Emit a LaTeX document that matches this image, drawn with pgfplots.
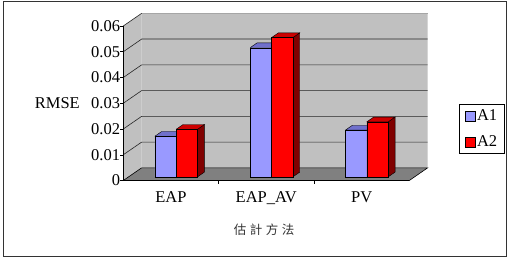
\documentclass[border=0pt]{standalone}
\usepackage{pgfplots}
\pgfplotsset{compat=1.18}
\usepackage{pgfplotstable}
\usepackage{fontspec}
\setmainfont{Liberation Serif}
\newfontfamily\cjk{Noto Sans CJK TC}

\definecolor{aonefront}{HTML}{9999FF}
\definecolor{aonetop}{HTML}{7070CC}
\definecolor{aoneside}{HTML}{4D4D80}
\definecolor{atwofront}{HTML}{FF0000}
\definecolor{atwotop}{HTML}{CC0000}
\definecolor{atwoside}{HTML}{800000}
\definecolor{wallc}{HTML}{C0C0C0}
\definecolor{floorc}{HTML}{808080}

\pgfplotstableread{
x  A1     A2
0  0.0158 0.0185
1  0.0502 0.0541
2  0.0182 0.0214
}\datatable

% depth geometry (axis units)
\def\DX{0.193}\def\DY{0.00493}
\def\FXa{0.054}\def\FYa{0.00138}
\def\FXb{0.127}\def\FYb{0.00325}
\def\BW{0.2235}

\newcommand\drawbar[5]{%
  \pgfmathsetmacro\bxl{#1+\FXa}%
  \pgfmathsetmacro\bxr{#1+\BW+\FXa}%
  \pgfmathsetmacro\byt{#2+\FYa}%
  \pgfmathsetmacro\bxlb{#1+\FXb}%
  \pgfmathsetmacro\bxrb{#1+\BW+\FXb}%
  \pgfmathsetmacro\bytb{#2+\FYb}%
  \addplot[forget plot, fill=#5, draw=black, line width=0.4pt]
    coordinates {(\bxr,\FYa) (\bxrb,\FYb) (\bxrb,\bytb) (\bxr,\byt) (\bxr,\FYa)};
  \addplot[forget plot, fill=#4, draw=black, line width=0.4pt]
    coordinates {(\bxl,\byt) (\bxr,\byt) (\bxrb,\bytb) (\bxlb,\bytb) (\bxl,\byt)};
  \addplot[forget plot, fill=#3, draw=black, line width=0.4pt]
    coordinates {(\bxl,\FYa) (\bxr,\FYa) (\bxr,\byt) (\bxl,\byt) (\bxl,\FYa)};
}

\begin{document}
\begin{tikzpicture}
\useasboundingbox (0,0) rectangle (510pt,260pt);
\fill[white] (0,0) rectangle (510pt,260pt);
\draw[black!80, line width=0.9pt] (3.5pt,3.3pt) rectangle (506.7pt,258.3pt);
\begin{axis}[
  at={(123.3pt,79.5pt)}, anchor=south west,
  scale only axis, width=304.4pt, height=167.2pt,
  xmin=-0.5, xmax=2.693, ymin=0, ymax=0.06493,
  axis line style={draw=none},
  clip=false,
  tick pos=left,
  scaled y ticks=false,
  xtick={0,1,2}, xticklabels={EAP,EAP\_AV,PV},
  xtick style={draw=none},
  ytick={0,0.01,0.02,0.03,0.04,0.05,0.06},
  yticklabels={0,0.01,0.02,0.03,0.04,0.05,0.06},
  ytick style={draw=black, line width=0.5pt},
  tick align=outside, major tick length=3pt,
  ticklabel style={font=\fontsize{16.5}{16.5}\selectfont},
  yticklabel style={inner sep=0pt},
  xticklabel style={inner sep=0pt, anchor=north, yshift=-8pt},
  legend style={at={(1.178,0.308)}, anchor=center, draw=black, line width=0.5pt,
    fill=white, font=\fontsize{16.5}{16.5}\selectfont, inner xsep=5pt, inner ysep=3pt,
    row sep=10pt, cells={anchor=west}},
]
% walls and floor
\addplot[forget plot, fill=wallc, draw=none]
  coordinates {(-0.307,0.00493) (2.693,0.00493) (2.693,0.06493) (-0.307,0.06493) (-0.307,0.00493)};
\addplot[forget plot, fill=wallc, draw=none]
  coordinates {(-0.5,0) (-0.307,0.00493) (-0.307,0.06493) (-0.5,0.06) (-0.5,0)};
\addplot[forget plot, draw=black!35, line width=0.5pt]
  coordinates {(-0.307,0.06493) (2.693,0.06493)};
\addplot[forget plot, fill=floorc, draw=black, line width=0.6pt]
  coordinates {(-0.5,0) (2.5,0) (2.693,0.00493) (-0.307,0.00493) (-0.5,0)};
% gridlines
\pgfplotsinvokeforeach{0.01,0.02,0.03,0.04,0.05}{
  \pgfmathsetmacro\gy{#1+\DY}
  \addplot[forget plot, draw=black!85, line width=0.6pt]
    coordinates {(-0.5,#1) (-0.307,\gy) (2.693,\gy)};
}
\addplot[forget plot, draw=black!85, line width=0.6pt]
  coordinates {(-0.5,0.06) (-0.307,0.06493)};
% bars
\pgfplotsinvokeforeach{0,1,2}{
  \pgfplotstablegetelem{#1}{A1}\of\datatable
  \drawbar{#1-\BW}{\pgfplotsretval}{aonefront}{aonetop}{aoneside}
  \pgfplotstablegetelem{#1}{A2}\of\datatable
  \drawbar{#1}{\pgfplotsretval}{atwofront}{atwotop}{atwoside}
}
% front axis lines and small category ticks
\addplot[forget plot, draw=black, line width=0.6pt] coordinates {(-0.5,0) (-0.5,0.06)};
\addplot[forget plot, draw=black, line width=0.6pt] coordinates {(-0.5,0) (2.5,0)};
\addplot[forget plot, draw=black, line width=0.5pt] coordinates {(0.5,0) (0.5,-0.0012)};
\addplot[forget plot, draw=black, line width=0.5pt] coordinates {(1.5,0) (1.5,-0.0012)};
% legend
\addlegendimage{legend image code/.code={\draw[fill=aonefront,draw=black,line width=0.5pt] (0pt,-5pt) rectangle (10pt,5pt);}}
\addlegendentry{A1}
\addlegendimage{legend image code/.code={\draw[fill=atwofront,draw=black,line width=0.5pt] (0pt,-5pt) rectangle (10pt,5pt);}}
\addlegendentry{A2}
\node[anchor=east, inner sep=0pt, font=\fontsize{16.5}{16.5}\selectfont, xshift=-43.3pt] at (axis cs:-0.5,0.03) {RMSE};
\end{axis}
\node[font=\cjk\fontsize{12.5}{12.5}\selectfont, text=black!80] at (264pt,30pt) {估\hspace{3.5pt}計\hspace{3.5pt}方\hspace{3.5pt}法};
\end{tikzpicture}
\end{document}
